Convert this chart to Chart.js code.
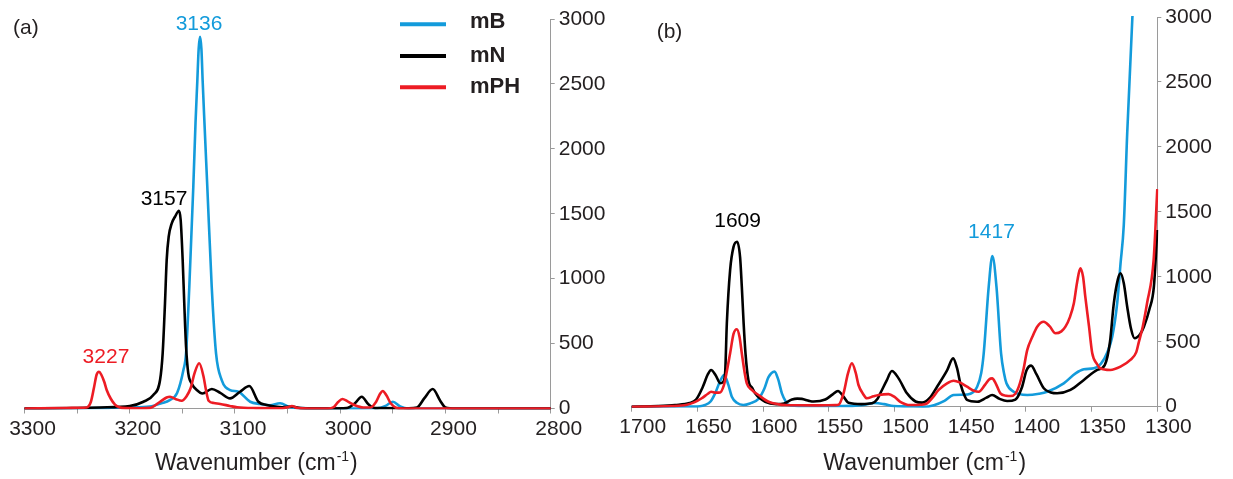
<!DOCTYPE html>
<html><head><meta charset="utf-8">
<script src="https://cdn.jsdelivr.net/npm/chart.js@4/dist/chart.umd.min.js"></script>
<style>
html,body{margin:0;padding:0;background:#fff;width:1233px;height:479px;overflow:hidden}
canvas{position:absolute;top:0}
#ca{left:0}
#cb{left:580px}
</style></head><body>
<canvas id="ca" width="616" height="479"></canvas>
<canvas id="cb" width="653" height="479"></canvas>
<script>
// ---------- DATA ----------
const seriesNames = ['mB', 'mN', 'mPH'];

const xTicksA = [3300, 3200, 3100, 3000, 2900, 2800];
const xTicksB = [1700, 1650, 1600, 1550, 1500, 1450, 1400, 1350, 1300];
const yTicks = [0, 500, 1000, 1500, 2000, 2500, 3000];

// panel (a): [wavenumber, intensity]
const mB_a = [[3300,0],[3250,2],[3220,5],[3200,8],[3181,15],[3170,40],[3162,65],[3155,119],[3149,296],[3146.5,425],[3143.4,938],[3139.6,1708],[3137.5,2200],[3135.8,2520],[3134.5,2770],[3133.2,2863],[3131.9,2770],[3130.7,2520],[3129,2200],[3126.3,1708],[3122.1,938],[3118,425],[3112.6,219],[3104.7,142],[3096.8,129],[3085.6,52],[3076.2,35],[3066.7,25],[3057.2,40],[3047.7,10],[3038,3],[3000,0],[2965,2],[2957,20],[2950,52],[2943,15],[2935,0],[2800,0]];
const mN_a = [[3300,0],[3250,4],[3228,8],[3200,19],[3187,52],[3177.6,104],[3171.2,219],[3168.7,427],[3166.5,812],[3164.9,1143],[3163,1323],[3160.1,1426],[3157,1477],[3153.2,1523],[3151.6,1452],[3149.7,1143],[3148.2,812],[3146.5,478],[3144.4,273],[3141,190],[3136,140],[3131,115],[3122,150],[3114,120],[3104.7,78],[3095.2,129],[3086.4,173],[3077.8,52],[3069.9,27],[3055,10],[3046,15],[3038,3],[3010,0],[2994,3],[2986,40],[2979.6,91],[2973,30],[2967,3],[2935,2],[2927,8],[2920,80],[2912.1,150],[2905,60],[2900,8],[2890,0],[2800,0]];
const mPH_a = [[3300,0],[3260,4],[3248,6],[3241,8],[3237,50],[3234,160],[3231.5,260],[3229.2,283],[3227,260],[3224,200],[3221.9,142],[3218,75],[3214,30],[3210,10],[3203,3],[3190,2],[3180.7,5],[3171.2,52],[3165,85],[3161.7,91],[3156,72],[3150.6,60],[3146,95],[3142,160],[3138.5,270],[3134,348],[3130,250],[3127.5,140],[3125,60],[3120,42],[3114,35],[3105,20],[3098,9],[3080,3],[3055,2],[3049,12],[3046,19],[3041,5],[3030,0],[3012,0],[3006,12],[3002,50],[2998,73],[2993,55],[2986,25],[2978,8],[2971,8],[2966,50],[2962,115],[2959.6,135],[2956,100],[2952,40],[2947,6],[2940,0],[2800,0]];

// panel (b): [wavenumber, intensity]
const mB_b = [[1700,0],[1660,1],[1648,4],[1644.2,13],[1640,40],[1636.5,103],[1633,190],[1629.7,244],[1626.5,170],[1623.8,77],[1620,30],[1615,13],[1610,25],[1603.5,60],[1599,140],[1596,225],[1591.3,270],[1588.5,210],[1585.7,103],[1582.5,35],[1580.7,13],[1570,5],[1540,5],[1525,12],[1515,28],[1508,20],[1500.7,5],[1490,2],[1477.8,0],[1470,12],[1462,45],[1455,90],[1448,92],[1442.2,100],[1437.1,154],[1434,260],[1432.1,411],[1428.3,924],[1425.5,1160],[1422.4,924],[1418.9,411],[1416.5,250],[1414.8,180],[1409.3,115],[1399,90],[1390,100],[1383.8,115],[1371.2,180],[1362.2,257],[1355.9,288],[1348.3,296],[1343,330],[1338,420],[1334.3,539],[1330.5,800],[1328,1100],[1325.5,1400],[1322.9,2106],[1319,2990],[1317,3300]];
const mN_b = [[1700,0],[1680,5],[1667,13],[1656,28],[1651,55],[1646,150],[1642,250],[1639.6,283],[1636,240],[1632.5,180],[1630.5,190],[1628.9,260],[1627.6,640],[1625.1,1052],[1622.5,1230],[1619.8,1270],[1617.5,1150],[1616.2,924],[1614.8,640],[1613.4,411],[1611.2,206],[1608,140],[1606.1,103],[1598.4,38],[1590,20],[1584,25],[1578,55],[1574,62],[1570.5,60],[1565,45],[1561.6,40],[1552.7,55],[1547,95],[1543,121],[1539,80],[1535,30],[1525,20],[1517.1,26],[1513,60],[1510.8,103],[1506,200],[1502,275],[1497,220],[1490.5,103],[1484,40],[1479,31],[1473,70],[1467.6,154],[1460,280],[1455.4,372],[1452.5,300],[1449.9,180],[1446.5,80],[1444.8,52],[1437.1,38],[1430,70],[1425.7,90],[1420,60],[1414.3,44],[1408,55],[1403,150],[1399.5,280],[1396,316],[1392,250],[1386.4,142],[1381,110],[1376.2,103],[1366.1,129],[1355.9,206],[1345.7,283],[1340,320],[1336,500],[1333.1,796],[1330,980],[1328,1027],[1325.5,950],[1322.9,770],[1320,600],[1317.3,527],[1313,560],[1310.2,616],[1306,750],[1302.6,924],[1300,1360]];
const mPH_b = [[1700,0],[1670,5],[1658,15],[1652,35],[1646.7,65],[1642,100],[1639.6,115],[1636,108],[1632.7,110],[1630,160],[1628.9,206],[1625.1,411],[1622.5,560],[1620,596],[1618,540],[1616.2,411],[1614,260],[1612.4,180],[1608.6,129],[1603.5,90],[1595.9,38],[1588,18],[1583.2,13],[1560,10],[1545,12],[1542.6,15],[1538.8,103],[1535.4,257],[1532.4,334],[1529.5,260],[1527.4,167],[1524,100],[1521,65],[1516,80],[1512.1,90],[1504.5,97],[1500,75],[1495.6,38],[1488.2,13],[1480,15],[1475.2,26],[1471,70],[1466.4,129],[1460,180],[1455,200],[1450,185],[1444.8,154],[1440,125],[1435.9,115],[1431,170],[1428,210],[1425.7,218],[1423,180],[1419.4,103],[1415,85],[1411.8,82],[1408,100],[1405.4,154],[1402,280],[1399,436],[1395,540],[1391.4,616],[1386.4,654],[1382,620],[1377.5,565],[1373,580],[1369.9,616],[1366.5,690],[1363.5,796],[1361,960],[1358.6,1065],[1356.5,1000],[1354.8,847],[1352,620],[1349.5,411],[1346,330],[1343.4,296],[1335.8,283],[1328,308],[1320.5,360],[1316,420],[1314.3,488],[1311,620],[1307.8,796],[1302.8,1129],[1300,1675]];

// peak annotations: text, wavenumber, intensity (baseline of text), series index
const peakLabelsA = [['3136', 3134.2, 2915, 0], ['3157', 3167.4, 1567, 1], ['3227', 3222.6, 350, 2]];
const peakLabelsB = [['1609', 1619.4, 1386, 1], ['1417', 1426.2, 1299, 0]];

// ---------- STYLE ----------
const FONT = "'Liberation Sans', Arial, Helvetica, sans-serif";
const COLORS = ['#139bdb', '#000000', '#ed1c24'];
const TXT = '#231f20';
const AXIS = '#9a9a9a';

function pts(arr){ return arr.map(p => ({x: p[0], y: p[1]})); }

function datasets(series){
  return series.map((s, i) => ({
    label: seriesNames[i],
    data: pts(s),
    borderColor: COLORS[i],
    borderWidth: 2.6,
    pointRadius: 0,
    fill: false,
    cubicInterpolationMode: 'monotone',
    order: [2, 1, 0][i],
    clip: 1
  }));
}

function drawTitle(ctx, x, y){
  ctx.fillStyle = TXT;
  ctx.textAlign = 'left';
  ctx.textBaseline = 'alphabetic';
  ctx.font = `23px ${FONT}`;
  const t1 = 'Wavenumber (cm';
  ctx.fillText(t1, x, y);
  let w = ctx.measureText(t1).width;
  ctx.font = `14px ${FONT}`;
  ctx.fillText('-1', x + w + 1, y - 9);
  w += 1 + ctx.measureText('-1').width;
  ctx.font = `23px ${FONT}`;
  ctx.fillText(')', x + w + 1, y);
}

function overlay(o){
  return {
    id: 'overlay',
    afterDraw(chart){
      const ctx = chart.ctx, xs = chart.scales.x, ys = chart.scales.y;
      ctx.save();
      ctx.textBaseline = 'alphabetic';
      ctx.textAlign = 'center';
      ctx.font = `21px ${FONT}`;
      for (const p of o.peaks){
        ctx.fillStyle = COLORS[p[3]];
        ctx.fillText(p[0], xs.getPixelForValue(p[1]), ys.getPixelForValue(p[2]));
      }
      ctx.textAlign = 'left';
      ctx.fillStyle = TXT;
      ctx.font = `21px ${FONT}`;
      ctx.fillText(o.letter, o.letterX, o.letterY);
      drawTitle(ctx, o.titleX, o.titleY);
      if (o.legend){
        for (let i = 0; i < seriesNames.length; i++){
          const ly = [24.3, 56, 87.3][i];
          ctx.strokeStyle = COLORS[i];
          ctx.lineWidth = 4;
          ctx.beginPath(); ctx.moveTo(400, ly); ctx.lineTo(446, ly); ctx.stroke();
          ctx.fillStyle = TXT;
          ctx.font = `bold 22px ${FONT}`;
          ctx.fillText(seriesNames[i], 470, [28, 61.5, 93.3][i]);
        }
      }
      ctx.restore();
    }
  };
}

function makeChart(id, series, xmin, xmax, xLabels, geo, ov){
  return new Chart(document.getElementById(id), {
    type: 'line',
    data: { datasets: datasets(series) },
    options: {
      responsive: false,
      animation: false,
      events: [],
      layout: { padding: { left: geo.left, top: geo.top, right: 0, bottom: 0 } },
      plugins: { legend: { display: false }, tooltip: { enabled: false }, title: { display: false } },
      scales: {
        x: {
          type: 'linear', reverse: true, min: xmin, max: xmax,
          afterFit(s){ s.height = geo.xh; s.paddingLeft = 0; s.paddingRight = 0; },
          afterBuildTicks(s){ const t = []; for (let v = xmin; v <= xmax; v += 50) t.push({value: v}); s.ticks = t; },
          grid: { display: true, drawOnChartArea: false, drawTicks: true, tickLength: 5, color: AXIS, lineWidth: 1 },
          border: { display: true, color: AXIS, width: 1 },
          ticks: {
            autoSkip: false, maxRotation: 0, padding: 3, color: TXT, labelOffset: geo.labelOffset,
            font: { family: FONT, size: 21 },
            callback: v => xLabels.includes(v) ? String(v) : ''
          }
        },
        y: {
          type: 'linear', position: 'right', min: 0, max: 3000,
          afterFit(s){ s.width = geo.yw; s.paddingTop = 0; s.paddingBottom = 0; },
          afterBuildTicks(s){ s.ticks = yTicks.map(v => ({value: v})); },
          grid: { display: true, drawOnChartArea: false, drawTicks: true, tickLength: 4, color: AXIS, lineWidth: 1 },
          border: { display: true, color: AXIS, width: 1 },
          ticks: { padding: 4, color: TXT, font: { family: FONT, size: 21 }, callback: v => String(v) }
        }
      }
    },
    plugins: [overlay(ov)]
  });
}

makeChart('ca', [mB_a, mN_a, mPH_a], 2800, 3300, xTicksA,
  { left: 24.5, top: 19, xh: 479 - 408.5, yw: 616 - 550.7, labelOffset: 8 },
  { peaks: peakLabelsA, letter: '(a)', letterX: 13, letterY: 34, titleX: 155, titleY: 470, legend: true });

makeChart('cb', [mB_b, mN_b, mPH_b], 1300, 1700, xTicksB,
  { left: 631.7 - 580, top: 17, xh: 479 - 406.7, yw: 653 - (1157.3 - 580), labelOffset: 11 },
  { peaks: peakLabelsB, letter: '(b)', letterX: 656.7 - 580, letterY: 37.5, titleX: 823.3 - 580, titleY: 470, legend: false });
</script>
</body></html>
